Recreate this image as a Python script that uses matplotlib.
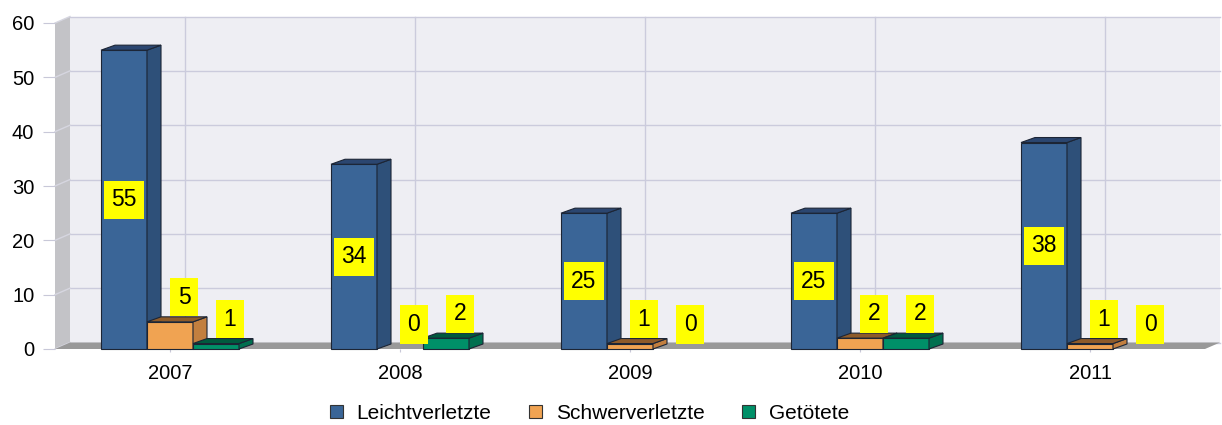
import matplotlib.pyplot as plt
from matplotlib.patches import Polygon, Patch

plt.rcParams['font.family'] = ['Liberation Sans', 'DejaVu Sans']

years = ['2007', '2008', '2009', '2010', '2011']
leicht = [55, 34, 25, 25, 38]
schwer = [5, 0, 1, 2, 1]
getoetet = [1, 2, 0, 2, 0]
namen = ['Leichtverletzte', 'Schwerverletzte', 'Getötete']

# front / side / top colours per series
farben = [('#3a6597', '#2e5079', '#2b4670'),
          ('#f0a352', '#c27f3f', '#8e5b2a'),
          ('#009068', '#00704f', '#005a3e')]

W, H = 1222, 425
fig = plt.figure(figsize=(W/100, H/100), dpi=100)
ax = fig.add_axes([55/W, 76/H, 1150/W, 326/H])
ax.set_xlim(-0.5, 4.5)
ax.set_ylim(0, 60)
sx = 5/1150   # data units per pixel
sy = 60/326

wdx, wdy = 15*sx, 6.5*sy   # depth of walls
bdx, bdy = 14*sx, 5*sy     # depth of bars

def poly(pts, fc, ec='none', z=1, lw=0.8):
    ax.add_patch(Polygon(pts, closed=True, facecolor=fc, edgecolor=ec,
                         lw=lw, zorder=z, clip_on=False))

# walls
poly([(-0.5+wdx, wdy), (4.5+wdx, wdy), (4.5+wdx, 60+wdy), (-0.5+wdx, 60+wdy)], '#eeeef3', z=0)
poly([(-0.5, 0), (-0.5+wdx, wdy), (-0.5+wdx, 60+wdy), (-0.5, 60)], '#c3c3c7', z=0.5)
gc = '#cbcbdc'
for v in range(0, 61, 10):
    ax.plot([-0.5+wdx, 4.5+wdx], [v+wdy, v+wdy], color=gc, lw=1, zorder=0.6, clip_on=False)
    ax.plot([-0.5, -0.5+wdx], [v, v+wdy], color='#d6d6e0', lw=1, zorder=0.6, clip_on=False)
for i in range(len(years)):
    ax.plot([i+wdx, i+wdx], [wdy, 60+wdy], color=gc, lw=1, zorder=0.6, clip_on=False)
poly([(-0.5, 0), (4.5, 0), (4.5+wdx, wdy), (-0.5+wdx, wdy)], '#999999', z=0.7)

# bars
z = 2
serien = [leicht, schwer, getoetet]
for i in range(len(years)):
    for j, werte in enumerate(serien):
        v = werte[i]
        x0 = i - 0.3 + j*0.2
        x1 = x0 + 0.2
        f, s, t = farben[j]
        if v > 0:
            poly([(x0, 0), (x1, 0), (x1, v), (x0, v)], f, '#1c2535', z)
            poly([(x1, 0), (x1+bdx, bdy), (x1+bdx, v+bdy), (x1, v)], s, '#1c2535', z)
            poly([(x0, v), (x1, v), (x1+bdx, v+bdy), (x0+bdx, v+bdy)], t, '#1c2535', z)
            z += 1
        box = dict(boxstyle='square,pad=0.33', fc='yellow', ec='none')
        if v >= 10:
            ax.text((x0+x1)/2, v/2, str(v), ha='center', va='center',
                    fontsize=16.5, bbox=box, zorder=50)
        else:
            ax.annotate(str(v), ((x0+x1)/2+bdx, v+bdy), xytext=(0, 8),
                        textcoords='offset pixels', ha='center', va='bottom',
                        fontsize=16.5, bbox=box, zorder=50, annotation_clip=False)

for sp in ax.spines.values():
    sp.set_visible(False)
ax.set_yticks(range(0, 61, 10))
ax.set_xticks(range(len(years)))
ax.set_xticklabels(years)
ax.tick_params(axis='y', length=8.6, color='#c8c8d8', labelsize=14.5, pad=6.3)
ax.tick_params(axis='x', length=2.5, color='#c8c8d8', labelsize=14.5, pad=8)

handles = [Patch(facecolor=farben[k][0], edgecolor='#333333', lw=0.8) for k in range(3)]
fig.legend(handles, namen, loc='center', bbox_to_anchor=(0.4824, 0.028), ncol=3,
           frameon=False, fontsize=15, handlelength=0.62, handleheight=0.62,
           handletextpad=0.67, columnspacing=1.8)

fig.savefig('out.png', dpi=100)
